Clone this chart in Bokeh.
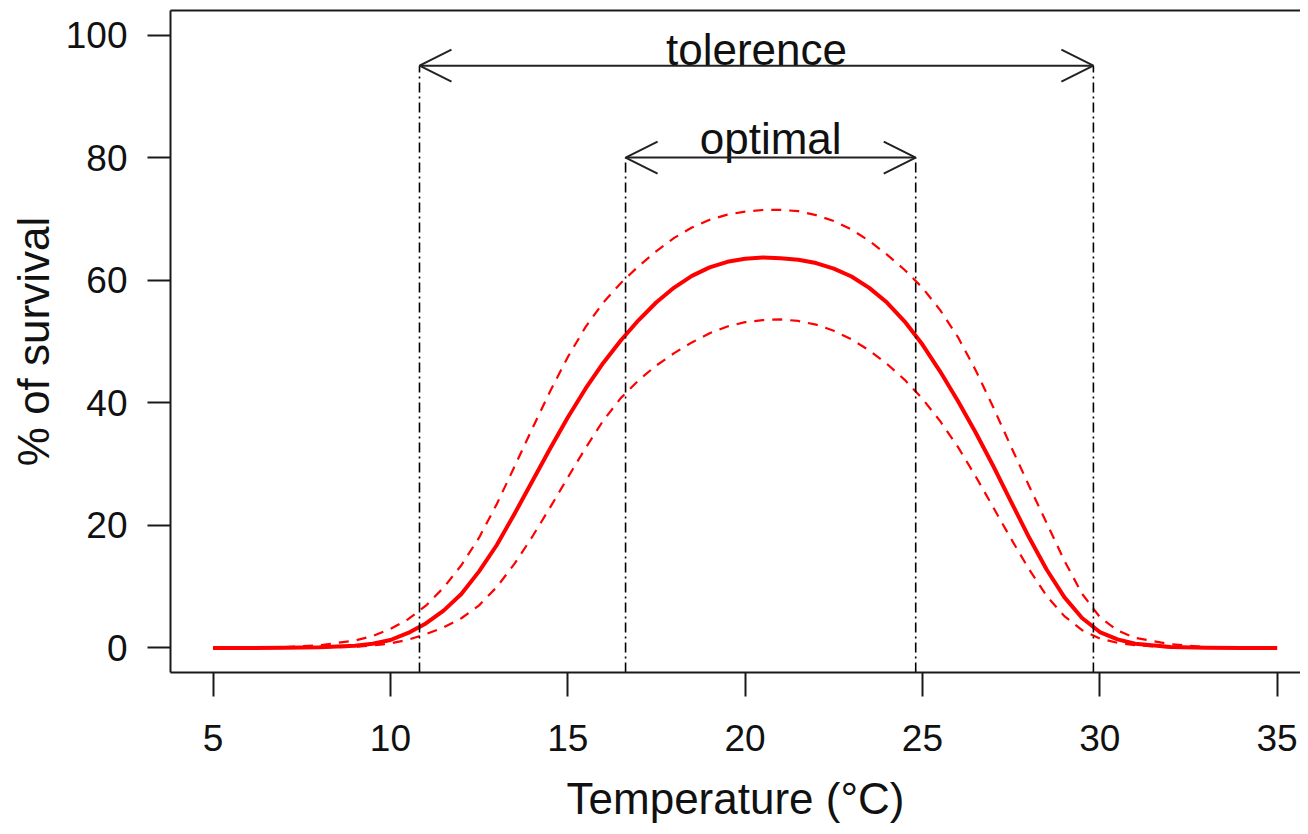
from bokeh.plotting import figure
from bokeh.models import Range1d, LinearAxis, FixedTicker, Arrow, OpenHead, ColumnDataSource
from bokeh.core.properties import value
from bokeh.embed import file_html
from bokeh.resources import INLINE

# ---------------- data ----------------
temp = [5, 6, 7, 8,
        9, 9.5, 10, 10.5, 11, 11.5, 12, 12.5, 13, 13.5, 14, 14.5, 15, 15.5,
        16, 16.5, 17, 17.5, 18, 18.5, 19, 19.5, 20, 20.5, 21, 21.5, 22, 22.5,
        23, 23.5, 24, 24.5, 25, 25.5, 26, 26.5, 27, 27.5, 28, 28.5, 29, 29.5,
        30, 30.5, 31,
        32, 33, 34, 35]
survival = [0, 0, 0.02, 0.1,
            0.35, 0.7, 1.3, 2.45, 4.0, 6.1, 8.8, 12.5, 16.8, 21.9, 27.2, 32.5, 37.6, 42.3,
            46.5, 50.2, 53.5, 56.4, 58.8, 60.7, 62.1, 63.0, 63.5, 63.7, 63.6, 63.35, 62.8, 61.9,
            60.6, 58.75, 56.35, 53.25, 49.5, 45.1, 40.3, 35.15, 29.65, 23.85, 18.1, 12.8, 8.3, 4.9,
            2.6, 1.4, 0.7,
            0.15, 0.02, 0, 0]
upper = [0, 0.05, 0.15, 0.45,
         1.2, 1.95, 3.1, 4.7, 6.9, 9.85, 13.5, 18.0, 23.5, 29.6, 35.8, 41.85, 47.45, 52.35,
         56.35, 59.55, 62.3, 64.75, 66.9, 68.6, 69.85, 70.7, 71.2, 71.45, 71.47, 71.27, 70.62, 69.67,
         68.27, 66.42, 64.17, 61.67, 58.77, 55.12, 50.72, 45.32, 39.22, 32.82, 26.52, 20.42, 14.25, 8.85,
         5.05, 2.85, 1.65,
         0.6, 0.15, 0.03, 0]
lower = [0, 0, 0.02, 0.08,
         0.2, 0.4, 0.75, 1.35, 2.25, 3.35, 4.85, 6.95, 9.95, 13.75, 18.15, 22.9, 27.8, 32.6,
         37.1, 40.8, 43.7, 46.1, 48.1, 49.85, 51.35, 52.45, 53.15, 53.5, 53.6, 53.35, 52.75, 51.75,
         50.35, 48.55, 46.35, 43.75, 40.65, 37.0, 32.8, 28.0, 22.9, 17.8, 12.9, 8.5, 5.2, 2.9,
         1.55, 0.85, 0.45,
         0.1, 0.02, 0, 0]

range_labels = ["tolerence", "optimal"]
range_low = [10.82, 16.63]
range_high = [29.82, 24.81]
range_level = [95, 80]

x_ticks = [5, 10, 15, 20, 25, 30, 35]
y_ticks = [0, 20, 40, 60, 80, 100]
x_title = "Temperature (°C)"
y_title = "% of survival"

# ---------------- layout ----------------
FONT = "Liberation Sans"
W, H = 1300, 826
LEFT, TOP = 170, 10
YLIM = (-4, 104)
FRAME_H = 662.3
BOTTOM = int(round(H - TOP - FRAME_H))
XLIM = (3.8, 36.2)       # full box range (its right edge falls outside the picture)
BOX_W = 1149.2           # box width in px for XLIM
frame_w = W - LEFT
x_end = XLIM[0] + (XLIM[1] - XLIM[0]) * frame_w / BOX_W
px_per_y = FRAME_H / (YLIM[1] - YLIM[0])

p = figure(width=W, height=H, output_backend="svg", toolbar_location=None,
           x_range=Range1d(XLIM[0], x_end), y_range=Range1d(*YLIM),
           min_border_left=LEFT, min_border_top=TOP, min_border_bottom=BOTTOM,
           min_border_right=0)
p.outline_line_color = None
p.grid.visible = False
p.background_fill_color = "white"
p.border_fill_color = "white"

AX_COL = "#1a1a1a"
TXT = "#111111"
for ax in (p.xaxis[0], p.yaxis[0]):
    ax.axis_line_color = AX_COL
    ax.axis_line_width = 2
    ax.major_tick_line_color = AX_COL
    ax.major_tick_line_width = 2
    ax.major_tick_in = 0
    ax.minor_tick_line_color = None
    ax.major_label_text_font = FONT
    ax.major_label_text_font_size = "37px"
    ax.major_label_text_color = TXT
    ax.axis_label_text_font = FONT
    ax.axis_label_text_font_size = "44px"
    ax.axis_label_text_font_style = "normal"
    ax.axis_label_text_color = TXT

p.xaxis[0].ticker = FixedTicker(ticks=x_ticks)
p.xaxis[0].major_tick_out = 24
p.xaxis[0].major_label_standoff = 28
p.xaxis[0].axis_label = x_title
p.xaxis[0].axis_label_standoff = 20

p.yaxis[0].ticker = FixedTicker(ticks=y_ticks)
p.yaxis[0].major_tick_out = 23
p.yaxis[0].major_label_standoff = 20
p.yaxis[0].major_label_orientation = "horizontal"
p.yaxis[0].axis_label = y_title
p.yaxis[0].axis_label_standoff = 5

top = LinearAxis(ticker=FixedTicker(ticks=[]), axis_line_color=AX_COL, axis_line_width=2,
                 major_tick_out=0, major_tick_in=0, minor_tick_line_color=None,
                 major_label_text_font_size="0px", major_label_standoff=0)
p.add_layout(top, "above")

# curves
p.line(temp, upper, line_color="#ff0000", line_width=2.2, line_dash="10 8")
p.line(temp, lower, line_color="#ff0000", line_width=2.2, line_dash="10 8")
p.line(temp, survival, line_color="#ff0000", line_width=4, line_join="round")

# vertical dash-dot markers
y0 = p.y_range.start
vx = range_low + range_high
vtop = range_level + range_level
p.segment(x0=vx, y0=[y0] * len(vx), x1=vx, y1=vtop,
          line_color="black", line_width=1.6, line_dash="10 4 2 4")

# range arrows
ARR = "#222222"
for lo, hi, lv in zip(range_low, range_high, range_level):
    p.add_layout(Arrow(x_start=lo, y_start=lv, x_end=hi, y_end=lv,
                       line_color=ARR, line_width=2,
                       start=OpenHead(size=32, line_color=ARR, line_width=2),
                       end=OpenHead(size=32, line_color=ARR, line_width=2)))

# labels: glyph centre sits this many px above each arrow
lift_px = [16, 19.5]
src = ColumnDataSource(dict(
    x=[(a + b) / 2 for a, b in zip(range_low, range_high)],
    y=[lv + d / px_per_y for lv, d in zip(range_level, lift_px)],
    t=range_labels))
p.text(x="x", y="y", text="t", source=src,
       text_font=value(FONT), text_font_size="44px", text_align="center",
       text_baseline="middle", text_color=TXT)

open("out.html", "w").write(file_html(p, INLINE))
